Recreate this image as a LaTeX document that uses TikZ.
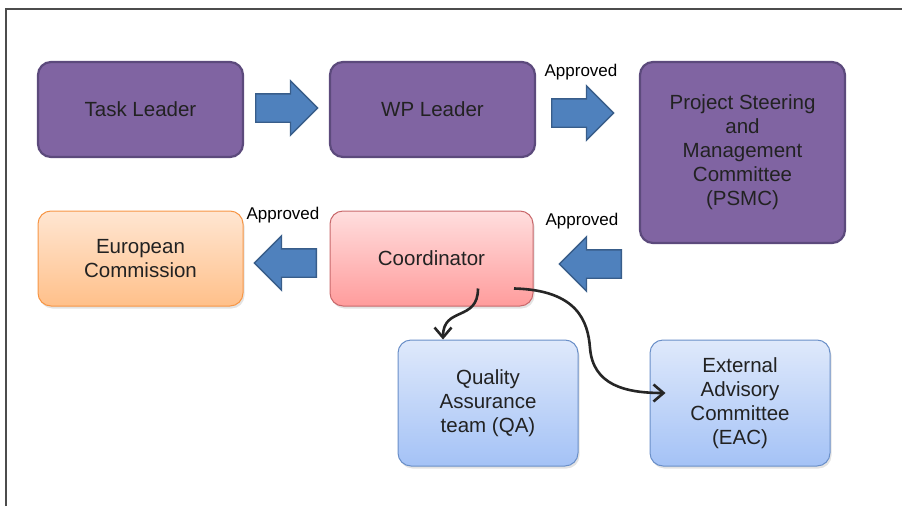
\documentclass[tikz,border=0pt]{standalone}
\usepackage{fontspec}
\setmainfont{Liberation Sans}
\usetikzlibrary{arrows.meta, shapes.arrows, shadows, positioning, calc}
\usepackage{xcolor}

\definecolor{purplefill}{HTML}{8064A2}
\definecolor{purpleedge}{HTML}{5C4A7C}
\definecolor{orangetop}{HTML}{FFE6D2}
\definecolor{orangebot}{HTML}{FFC08A}
\definecolor{orangeedge}{HTML}{F79646}
\definecolor{redtop}{HTML}{FFDEDE}
\definecolor{redbot}{HTML}{FF9C9C}
\definecolor{rededge}{HTML}{C9686B}
\definecolor{bluetop}{HTML}{DFE9FB}
\definecolor{bluebot}{HTML}{A4C2F6}
\definecolor{blueedge}{HTML}{6A8FC8}
\definecolor{arrowfill}{HTML}{4F81BD}
\definecolor{arrowedge}{HTML}{385D8A}
\definecolor{textdark}{HTML}{222222}

\tikzset{
  box/.style={
    rounded corners=13pt,
    align=center,
    text=textdark,
    font=\fontsize{20.5}{24}\selectfont
  },
  purplebox/.style={box, draw=purpleedge, fill=purplefill, line width=2.2pt},
  softshadow/.style={drop shadow={shadow xshift=1.5pt, shadow yshift=-2.5pt, opacity=0.22}},
  orangebox/.style={box, softshadow, draw=orangeedge, line width=1pt,
    top color=orangetop, bottom color=orangebot},
  redbox/.style={box, softshadow, draw=rededge, line width=1pt,
    top color=redtop, bottom color=redbot},
  bluebox/.style={box, softshadow, draw=blueedge, line width=1pt,
    top color=bluetop, bottom color=bluebot},
  blockarrow/.style={
    single arrow,
    draw=arrowedge,
    fill=arrowfill,
    line width=1.4pt,
    minimum height=62pt,
    inner xsep=0pt,
    inner ysep=13.5pt,
    single arrow head extend=13pt
  },
  approved/.style={font=\fontsize{17}{19}\selectfont, text=black},
  link/.style={draw=black!85, line width=2.6pt, -{Straight Barb[length=10pt, width=17pt]}}
}

\begin{document}
\begin{tikzpicture}[x=1pt, y=-1pt]

\useasboundingbox (0,0) rectangle (902,506);

% -------- frame --------
\draw[line width=1.6pt, black!70] (6,506) -- (6,9) -- (902,9);

% -------- top row --------
\node[purplebox, minimum width=205pt, minimum height=95pt] (task) at (140.5,109.5) {Task Leader};
\node[purplebox, minimum width=205pt, minimum height=95pt] (wp) at (432.5,109.5) {WP Leader};
\node[purplebox, minimum width=205pt, minimum height=181pt] (psmc) at (742.5,152.5)
  {Project Steering\\and\\Management\\Committee\\(PSMC)};

% -------- middle row --------
\node[orangebox, minimum width=205pt, minimum height=95pt] (ec) at (140.5,258.5) {European\\Commission};
\node[redbox, minimum width=203pt, minimum height=95pt] (coord) at (431.5,258.5) {Coordinator};

% -------- bottom row --------
\node[bluebox, minimum width=180pt, minimum height=126pt] (qa) at (488,403) {Quality\\Assurance\\team (QA)};
\node[bluebox, minimum width=180pt, minimum height=126pt] (eac) at (740,403)
  {External\\Advisory\\Committee\\(EAC)};

% -------- block arrows --------
\node[blockarrow, anchor=tail] (arrA) at (255,108) {};
\node[blockarrow, anchor=tail] (arrB) at (551,113) {};
\node[blockarrow, anchor=tail, shape border rotate=180] (arrC) at (317,263) {};
\node[blockarrow, anchor=tail, shape border rotate=180] (arrD) at (622,264) {};

% -------- labels --------
\node[approved] (apB) at (581,72) {Approved};
\node[approved] (apC) at (283,215) {Approved};
\node[approved] (apD) at (582,221) {Approved};

% -------- coordinator links --------
\coordinate (qaout) at ([xshift=46.5pt, yshift=18pt]coord.south);
\coordinate (eacout) at ([xshift=82.5pt, yshift=18pt]coord.south);
\coordinate (qain) at ([xshift=-45pt]qa.north);
\coordinate (eacin) at ([xshift=16pt, yshift=10pt]eac.west);

\draw[link] (qaout) .. controls (478,322) and (443,306) .. (qain);
\draw[link] (eacout) .. controls (578,290) and (588,322) .. (590,348)
  .. controls (593,385) and (625,393) .. (eacin);

\end{tikzpicture}
\end{document}
